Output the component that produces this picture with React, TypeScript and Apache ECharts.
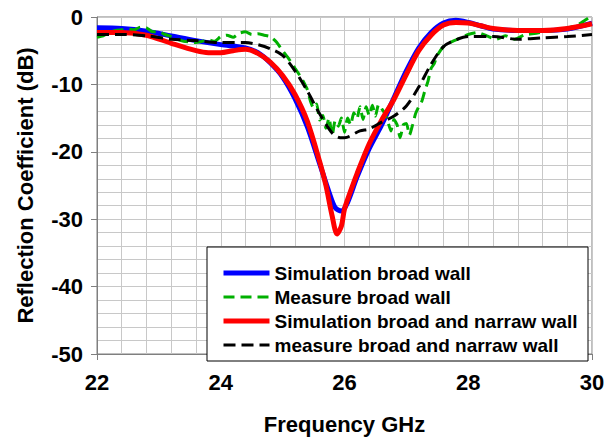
import React, { useEffect, useRef } from "react";
import * as echarts from "echarts";

const FONT = "'Liberation Sans', Arial, sans-serif";

const seriesNames = [
  "Simulation broad wall",
  "Measure broad wall",
  "Simulation broad and narraw wall",
  "measure broad and narraw wall",
];

const xTicks = [22, 24, 26, 28, 30];
const yTicks = [0, -10, -20, -30, -40, -50];

const simBroadFreq = [22.0, 22.4, 22.8, 23.2, 23.6, 24.0, 24.4, 24.6, 24.8, 25.0, 25.2, 25.4, 25.6, 25.75, 25.85, 25.95, 26.05, 26.2, 26.4, 26.6, 26.8, 27.0, 27.2, 27.4, 27.6, 27.8, 28.0, 28.2, 28.4, 28.8, 29.2, 29.6, 30.0];
const simBroadDb = [-1.6, -1.7, -2.1, -2.8, -3.5, -4.1, -4.6, -5.3, -6.8, -8.9, -12.1, -16.3, -21.8, -26.0, -28.3, -28.8, -27.5, -23.8, -19.5, -16.0, -12.0, -8.0, -4.6, -2.3, -0.9, -0.5, -0.8, -1.3, -1.8, -2.0, -2.0, -1.8, -0.9];

const measBroadFreq = [22.0, 22.1, 22.2, 22.3, 22.4, 22.5, 22.6, 22.7, 22.8, 22.9, 23.0, 23.1, 23.2, 23.3, 23.4, 23.5, 23.6, 23.7, 23.8, 23.9, 24.0, 24.1, 24.2, 24.3, 24.4, 24.5, 24.6, 24.7, 24.8, 24.9, 25.0, 25.1, 25.2, 25.3, 25.4, 25.45, 25.5, 25.55, 25.6, 25.65, 25.7, 25.75, 25.8, 25.85, 25.9, 25.95, 26.0, 26.05, 26.1, 26.15, 26.2, 26.25, 26.3, 26.35, 26.4, 26.45, 26.5, 26.55, 26.6, 26.65, 26.7, 26.75, 26.8, 26.85, 26.9, 26.95, 27.0, 27.05, 27.1, 27.15, 27.2, 27.25, 27.3, 27.35, 27.4, 27.45, 27.5, 27.6, 27.7, 27.85, 28.0, 28.15, 28.3, 28.45, 28.6, 28.75, 28.9, 29.1, 29.3, 29.5, 29.7, 29.8, 29.9, 30.0];
const measBroadDb = [-3.0, -2.8, -2.3, -2.0, -1.9, -1.8, -1.9, -1.5, -1.6, -2.2, -2.2, -2.6, -2.9, -3.3, -3.6, -3.7, -3.8, -3.6, -3.4, -3.6, -2.9, -2.7, -3.0, -2.4, -2.2, -2.6, -2.5, -2.7, -2.9, -3.7, -5.0, -6.2, -7.6, -9.0, -10.8, -12.5, -13.5, -12.9, -15.3, -14.6, -16.5, -15.0, -17.6, -15.4, -16.2, -15.0, -17.1, -15.0, -16.0, -14.2, -15.1, -13.3, -15.2, -13.3, -14.6, -13.1, -14.7, -13.0, -13.6, -14.3, -15.5, -16.9, -15.2, -16.0, -17.9, -16.0, -15.8, -17.5, -16.0, -14.3, -13.3, -12.5, -10.9, -9.5, -7.6, -6.9, -5.7, -4.4, -3.8, -3.2, -2.6, -2.3, -2.8, -3.3, -2.8, -3.3, -2.7, -2.4, -2.1, -1.9, -1.4, -1.0, -0.4, 0.2];

const simBothFreq = [22.0, 22.4, 22.8, 23.2, 23.6, 23.8, 24.0, 24.2, 24.4, 24.6, 24.8, 25.0, 25.2, 25.4, 25.6, 25.7, 25.8, 25.88, 25.95, 26.0, 26.1, 26.2, 26.4, 26.6, 26.8, 27.0, 27.2, 27.4, 27.6, 27.8, 28.0, 28.2, 28.4, 28.8, 29.2, 29.6, 30.0];
const simBothDb = [-2.3, -2.3, -2.7, -3.9, -5.0, -5.3, -5.3, -5.0, -4.8, -5.4, -6.7, -8.7, -11.5, -15.5, -21.5, -25.0, -29.5, -32.2, -31.0, -28.5, -25.8, -23.3, -18.8, -15.3, -12.2, -8.5, -5.0, -2.7, -1.2, -0.8, -0.9, -1.3, -1.7, -2.0, -2.0, -1.7, -1.0];

const measBothFreq = [22.0, 22.4, 22.8, 23.2, 23.6, 24.0, 24.4, 24.6, 24.8, 25.0, 25.2, 25.4, 25.6, 25.8, 25.93, 26.0, 26.25, 26.4, 26.6, 26.8, 27.0, 27.2, 27.4, 27.6, 27.8, 28.0, 28.4, 28.8, 29.2, 29.6, 30.0];
const measBothDb = [-2.6, -2.6, -2.8, -3.3, -3.5, -3.8, -3.8, -4.1, -4.7, -5.7, -8.0, -11.0, -14.4, -17.2, -17.9, -17.9, -16.9, -16.6, -15.6, -14.7, -13.2, -10.4, -7.0, -4.4, -3.4, -2.9, -2.9, -3.3, -3.1, -2.9, -2.6];

const zip = (xs: number[], ys: number[]) => xs.map((x, i) => [x, ys[i]]);

export default function App() {
  const ref = useRef<HTMLDivElement>(null);
  useEffect(() => {
    if (!ref.current) return;
    const chart = echarts.init(ref.current, undefined, { renderer: "svg" });
    const gridGray = "#c8c8c8";
    const axisGray = "#7f7f7f";
    const labelStyle = { fontFamily: FONT, fontWeight: "bold" as const, fontSize: 22, color: "#000" };
    chart.setOption({
      animation: false,
      backgroundColor: "#fff",
      grid: { left: 97, right: 20, top: 17, bottom: 77, show: true, borderColor: axisGray, borderWidth: 1 },
      xAxis: {
        type: "value",
        min: xTicks[0],
        max: xTicks[xTicks.length - 1],
        interval: 2,
        name: "Frequency GHz",
        nameLocation: "middle",
        nameGap: 59,
        nameTextStyle: labelStyle,
        axisLine: { show: true, onZero: false, lineStyle: { color: axisGray, width: 1 } },
        axisTick: { show: true, length: 6, lineStyle: { color: axisGray } },
        minorTick: { show: false, splitNumber: 5 },
        splitLine: { show: true, lineStyle: { color: gridGray, width: 1 } },
        minorSplitLine: { show: true, lineStyle: { color: gridGray, width: 1 } },
        axisLabel: { ...labelStyle, margin: 17 },
      },
      yAxis: {
        type: "value",
        min: yTicks[yTicks.length - 1],
        max: yTicks[0],
        interval: 10,
        name: "Reflection Coefficient (dB)",
        nameLocation: "middle",
        nameGap: 61,
        nameTextStyle: labelStyle,
        axisLine: { show: true, onZero: false, lineStyle: { color: axisGray, width: 1 } },
        axisTick: { show: true, length: 6, lineStyle: { color: axisGray } },
        minorTick: { show: false, splitNumber: 5 },
        splitLine: { show: true, lineStyle: { color: gridGray, width: 1 } },
        minorSplitLine: { show: true, lineStyle: { color: gridGray, width: 1 } },
        axisLabel: { ...labelStyle, margin: 14 },
      },
      legend: {
        orient: "vertical",
        left: 216,
        top: 256,
        itemWidth: 46,
        itemHeight: 14,
        itemGap: 0,
        z: 10,
        data: [
          { name: seriesNames[0], lineStyle: { width: 5 } },
          { name: seriesNames[1], lineStyle: { width: 3 } },
          { name: seriesNames[2], lineStyle: { width: 5 } },
          { name: seriesNames[3], lineStyle: { width: 3 } },
        ],
        itemStyle: { opacity: 0 },
        textStyle: { fontFamily: FONT, fontWeight: "bold", fontSize: 19, color: "#000", lineHeight: 24 },
      },
      graphic: [
        {
          type: "rect",
          z: 5,
          shape: { x: 207, y: 247, width: 381, height: 114 },
          style: { fill: "#fff", stroke: "#000", lineWidth: 1 },
        },
      ],
      series: [
        {
          name: seriesNames[0],
          type: "line",
          data: zip(simBroadFreq, simBroadDb),
          symbol: "none",
          smooth: 0.3,
          color: "#0000ff",
          lineStyle: { color: "#0000ff", width: 5 },
          z: 2,
        },
        {
          name: seriesNames[1],
          type: "line",
          data: zip(measBroadFreq, measBroadDb),
          symbol: "none",
          smooth: 0.2,
          color: "#00b000",
          lineStyle: { color: "#00b000", width: 3, type: [11, 6] },
          z: 3,
        },
        {
          name: seriesNames[2],
          type: "line",
          data: zip(simBothFreq, simBothDb),
          symbol: "none",
          smooth: 0.3,
          color: "#ff0000",
          lineStyle: { color: "#ff0000", width: 5 },
          z: 4,
        },
        {
          name: seriesNames[3],
          type: "line",
          data: zip(measBothFreq, measBothDb),
          symbol: "none",
          smooth: 0.3,
          color: "#000000",
          lineStyle: { color: "#000000", width: 3, type: [12, 6] },
          z: 5,
        },
      ],
    });
    return () => chart.dispose();
  }, []);
  return (
    <div style={{ position: "fixed", left: 0, top: 0, width: 612, height: 440, overflow: "hidden", background: "#fff" }}>
      <div ref={ref} style={{ width: 612, height: 440 }} />
    </div>
  );
}
